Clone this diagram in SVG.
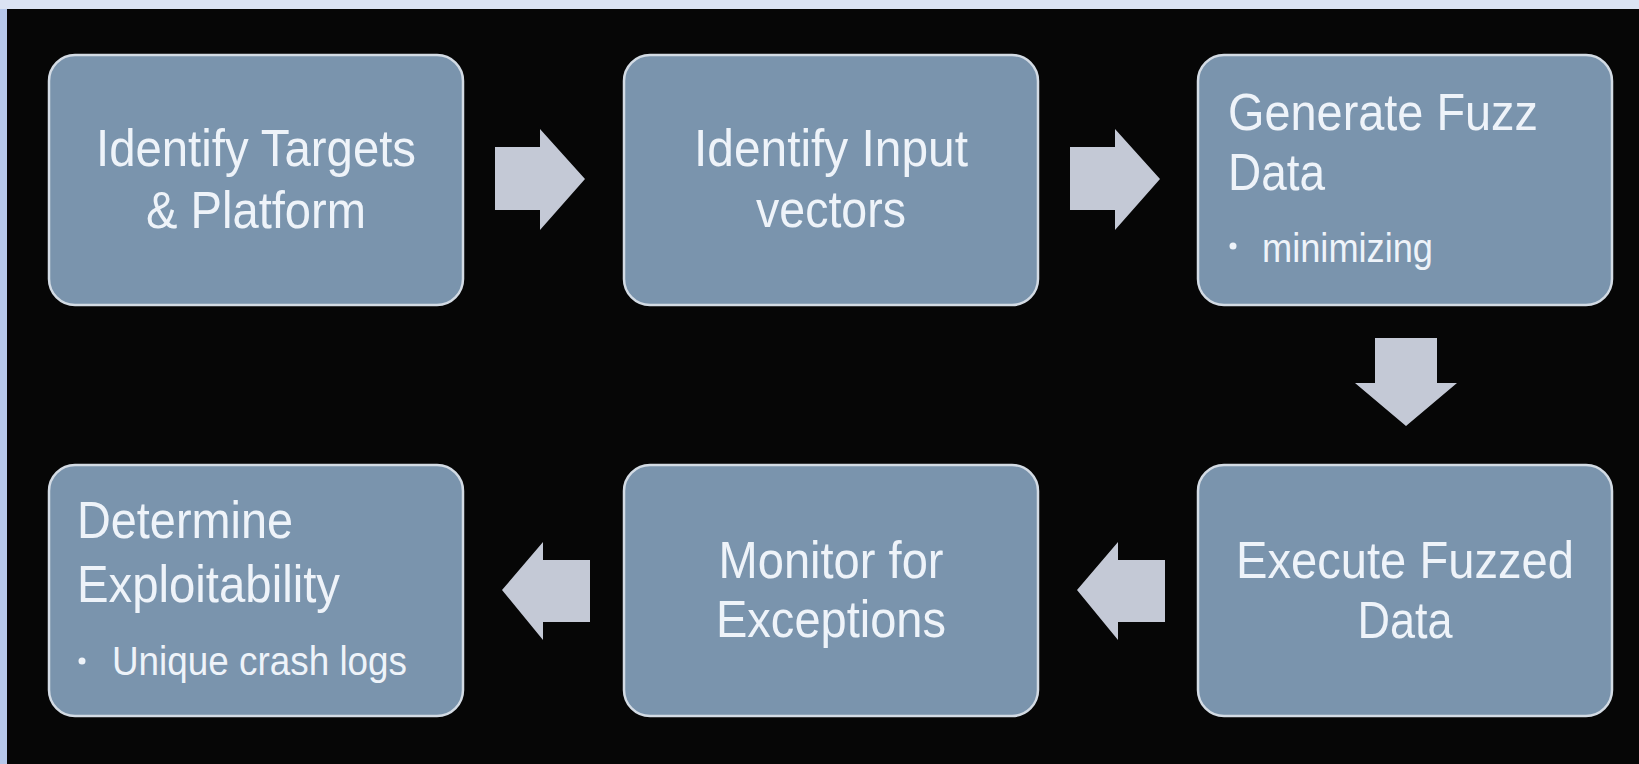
<svg xmlns="http://www.w3.org/2000/svg" width="1639" height="764" viewBox="0 0 1639 764">
<style>
.box{fill:#7a94ad;stroke:#d3dbe4;stroke-width:2.5}
.t{font-family:"Liberation Sans",Arial,sans-serif;fill:#eef3f9;font-size:52px}
.s{font-family:"Liberation Sans",Arial,sans-serif;fill:#eef3f9;font-size:40px}
.c{text-anchor:middle}
.arr{fill:#c4c9d6}
</style>
<rect x="0" y="0" width="1639" height="764" fill="#dbe3f3"/>
<rect x="0" y="9" width="7" height="755" fill="#b6c7ea"/>
<rect x="7" y="9" width="1632" height="755" fill="#060606"/>
<g id="node-identify-targets">
<rect class="box" x="49" y="55" width="414" height="250" rx="26"/>
<text class="t c" x="256" y="166" textLength="320" lengthAdjust="spacingAndGlyphs">Identify Targets</text>
<text class="t c" x="256" y="228" textLength="220" lengthAdjust="spacingAndGlyphs">&amp; Platform</text>
</g>
<g id="node-identify-input">
<rect class="box" x="624" y="55" width="414" height="250" rx="26"/>
<text class="t c" x="831" y="166" textLength="274" lengthAdjust="spacingAndGlyphs">Identify Input</text>
<text class="t c" x="831" y="227" textLength="150" lengthAdjust="spacingAndGlyphs">vectors</text>
</g>
<g id="node-generate-fuzz">
<rect class="box" x="1198" y="55" width="414" height="250" rx="26"/>
<text class="t" x="1228" y="130" textLength="310" lengthAdjust="spacingAndGlyphs">Generate Fuzz</text>
<text class="t" x="1228" y="190" textLength="97" lengthAdjust="spacingAndGlyphs">Data</text>
<circle cx="1233" cy="246" r="3.5" fill="#eef3f9"/>
<text class="s" x="1262" y="262" textLength="171" lengthAdjust="spacingAndGlyphs">minimizing</text>
</g>
<g id="node-execute-fuzzed">
<rect class="box" x="1198" y="465" width="414" height="251" rx="26"/>
<text class="t c" x="1405" y="578" textLength="338" lengthAdjust="spacingAndGlyphs">Execute Fuzzed</text>
<text class="t c" x="1405" y="638" textLength="95" lengthAdjust="spacingAndGlyphs">Data</text>
</g>
<g id="node-monitor">
<rect class="box" x="624" y="465" width="414" height="251" rx="26"/>
<text class="t c" x="831" y="578" textLength="225" lengthAdjust="spacingAndGlyphs">Monitor for</text>
<text class="t c" x="831" y="637" textLength="230" lengthAdjust="spacingAndGlyphs">Exceptions</text>
</g>
<g id="node-determine">
<rect class="box" x="49" y="465" width="414" height="251" rx="26"/>
<text class="t" x="77" y="538" textLength="216" lengthAdjust="spacingAndGlyphs">Determine</text>
<text class="t" x="77" y="602" textLength="263" lengthAdjust="spacingAndGlyphs">Exploitability</text>
<circle cx="82" cy="661" r="3.5" fill="#eef3f9"/>
<text class="s" x="112" y="675" textLength="295" lengthAdjust="spacingAndGlyphs">Unique crash logs</text>
</g>
<g id="connectors">
<polygon class="arr" points="495,147 540,147 540,129 585,179 540,230 540,210 495,210"/>
<polygon class="arr" points="1070,147 1115,147 1115,129 1160,179 1115,230 1115,210 1070,210"/>
<polygon class="arr" points="1375,338 1437,338 1437,383 1457,383 1406,426 1355,383 1375,383"/>
<polygon class="arr" points="1165,560 1118,560 1118,542 1077,590 1118,640 1118,622 1165,622"/>
<polygon class="arr" points="590,560 543,560 543,542 502,590 543,640 543,622 590,622"/>
</g>
</svg>
